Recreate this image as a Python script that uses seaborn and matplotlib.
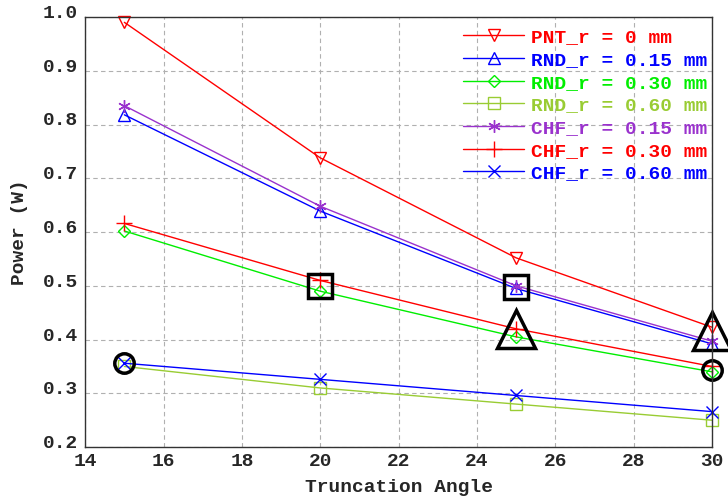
import pandas as pd
import matplotlib
matplotlib.use('Agg')
import matplotlib.pyplot as plt
import matplotlib.transforms as mtransforms
import seaborn as sns

# Data
angles = [15, 20, 25, 30]
pnt_r0 = [0.990, 0.738, 0.552, 0.423]
rnd_r015 = [0.818, 0.639, 0.495, 0.392]
rnd_r030 = [0.602, 0.490, 0.405, 0.340]
rnd_r060 = [0.350, 0.310, 0.280, 0.250]
chf_r015 = [0.835, 0.648, 0.500, 0.397]
chf_r030 = [0.616, 0.510, 0.420, 0.350]
chf_r060 = [0.356, 0.326, 0.296, 0.266]

labels = ['PNT_r = 0 mm', 'RND_r = 0.15 mm', 'RND_r = 0.30 mm', 'RND_r = 0.60 mm',
          'CHF_r = 0.15 mm', 'CHF_r = 0.30 mm', 'CHF_r = 0.60 mm']
series = [pnt_r0, rnd_r015, rnd_r030, rnd_r060, chf_r015, chf_r030, chf_r060]
colors = ['#ff0000', '#0000ff', '#00ee00', '#99cc33', '#9a32cd', '#ff0000', '#0000ff']
markers = ['v', '^', 'D', 's', (6, 2, 0), '+', 'x']
msizes = [8, 8, 6, 8, 9, 12, 9]

# black highlight marks drawn on top
box_x, box_y = [20, 25], [0.500, 0.497]
tri_x, tri_y = [25, 30], [0.420, 0.416]
ring_x, ring_y = [15, 30], [0.356, 0.343]

sns.set_style('white')
plt.rcParams['font.family'] = ['Liberation Mono', 'DejaVu Sans Mono']
plt.rcParams['font.weight'] = 'bold'

fig = plt.figure(figsize=(7.28, 4.99), dpi=100)
ax = fig.add_axes([0.117, 0.104, 0.861, 0.862])

for name, vals, c, m, ms in zip(labels, series, colors, markers, msizes):
    df = pd.DataFrame({'angle': angles, 'power': vals})
    sns.lineplot(data=df, x='angle', y='power', ax=ax, color=c, marker=m,
                 markersize=ms, markerfacecolor='none', markeredgecolor=c,
                 markeredgewidth=1.0, linewidth=1.0, label=name, clip_on=False)

ax.plot(box_x, box_y, ls='none', marker='s', ms=17, mfc='none', mec='black', mew=2.5, clip_on=False)
ax.plot(tri_x, tri_y, ls='none', marker='^', ms=27, mfc='none', mec='black', mew=2.5, clip_on=False)
ax.plot(ring_x, ring_y, ls='none', marker='o', ms=14, mfc='none', mec='black', mew=2.5, clip_on=False)

ax.set_xlim(14, 30)
ax.set_ylim(0.2, 1.0)
ax.set_xticks(range(14, 31, 2))
ax.set_yticks([0.2, 0.3, 0.4, 0.5, 0.6, 0.7, 0.8, 0.9, 1.0])
ax.set_yticklabels([f'{v:.1f}' for v in ax.get_yticks()])
ax.tick_params(labelsize=14, direction='in', length=3, width=0.8)
ax.tick_params(axis='y', pad=5)
ax.tick_params(axis='x', pad=4)
# y tick labels sit a little above their ticks in the original
shift = mtransforms.ScaledTranslation(0, 4 / 72, fig.dpi_scale_trans)
for lab in ax.get_yticklabels():
    lab.set_transform(lab.get_transform() + shift)
for lab in ax.get_xticklabels() + ax.get_yticklabels():
    lab.set_fontweight('bold')

ax.grid(True, linestyle=(0, (4, 3)), color='#b0b0b0', linewidth=0.8)
for sp in ax.spines.values():
    sp.set_color('#333333')
    sp.set_linewidth(1.0)

ax.set_xlabel('Truncation Angle', fontsize=14, fontweight='bold', labelpad=7)
ax.set_ylabel('Power (W)', fontsize=14, fontweight='bold', labelpad=11)

leg = ax.legend(loc='upper right', bbox_to_anchor=(1.011, 1.0), frameon=False,
                fontsize=14, handlelength=3.15, handletextpad=0.35,
                labelspacing=0.26, labelcolor='linecolor', borderaxespad=0.2)
for t in leg.get_texts():
    t.set_fontweight('bold')

fig.savefig('out.png', dpi=100)
